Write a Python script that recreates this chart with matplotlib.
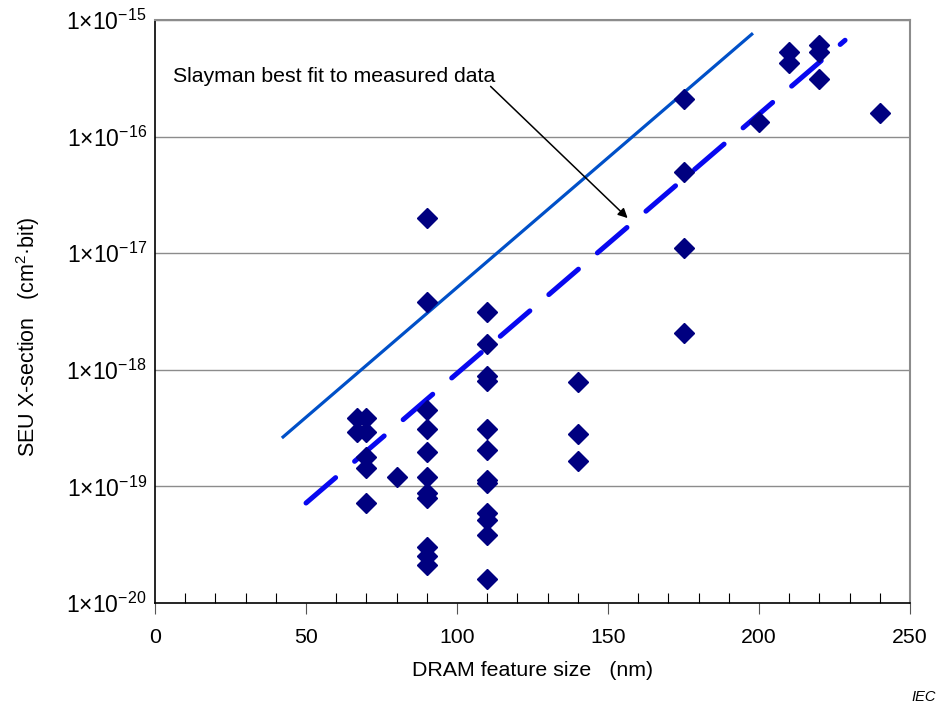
import numpy as np
import matplotlib
matplotlib.use("Agg")
import matplotlib.pyplot as plt
from matplotlib.ticker import FixedLocator, FuncFormatter, MultipleLocator

plt.rcParams['font.family'] = ['Liberation Sans', 'DejaVu Sans']
plt.rcParams['mathtext.fontset'] = 'custom'
plt.rcParams['mathtext.rm'] = 'Liberation Sans'
plt.rcParams['mathtext.it'] = 'Liberation Sans:italic'
plt.rcParams['mathtext.bf'] = 'Liberation Sans:bold'

# measured data (feature size nm, SEU cross-section cm2/bit)
feature_nm = [67, 67, 70, 70, 70, 70, 70, 80,
              90, 90, 90, 90, 90, 90, 90, 90, 90, 90, 90,
              110, 110, 110, 110, 110, 110, 110, 110, 110, 110, 110, 110,
              140, 140, 140,
              175, 175, 175, 175,
              200, 210, 210, 220, 220, 220, 240]
seu_xsec = [3.86e-19, 2.93e-19, 3.86e-19, 2.93e-19, 1.8e-19, 1.44e-19, 7.2e-20, 1.2e-19,
            2.0e-17, 3.8e-18, 4.5e-19, 3.1e-19, 1.97e-19, 1.2e-19, 8.8e-20, 7.9e-20, 3.0e-20, 2.55e-20, 2.1e-20,
            3.1e-18, 1.66e-18, 8.85e-19, 8.0e-19, 3.1e-19, 2.05e-19, 1.13e-19, 1.07e-19, 5.9e-20, 5.15e-20, 3.8e-20, 1.6e-20,
            7.85e-19, 2.81e-19, 1.65e-19,
            2.1e-16, 4.97e-17, 1.11e-17, 2.07e-18,
            1.33e-16, 5.3e-16, 4.28e-16, 6.1e-16, 5.3e-16, 3.12e-16, 1.59e-16]

# fitted lines (end points)
upper_x = [42, 198]
upper_y = [2.6e-19, 7.7e-16]
fit_x = [50, 228.5]
fit_y = [7.2e-20, 6.7e-16]

yticks = [1e-20, 1e-19, 1e-18, 1e-17, 1e-16, 1e-15]

fig = plt.figure(figsize=(9.43, 7.06), dpi=100)
ax = fig.add_axes([0.1644, 0.1459, 0.8006, 0.8258])
ax.set_yscale('log')
ax.set_xlim(0, 250)
ax.set_ylim(1e-20, 1e-15)

for y in yticks[1:]:
    ax.axhline(y, color='#8c8c8c', lw=1.0, zorder=1)

ax.plot(upper_x, upper_y, color='#0050c8', lw=2.3, solid_capstyle='butt', zorder=2)
ax.plot(fit_x, fit_y, color='#0808f0', lw=3.6, dashes=(7.8, 5.0),
        dash_capstyle='round', zorder=3)
ax.plot(feature_nm, seu_xsec, linestyle='none', marker='D', markersize=10,
        color='#000080', markeredgecolor='#000080', zorder=4)

ax.annotate('Slayman best fit to measured data', xy=(156.5, 2.0e-17),
            xytext=(6, 3.25e-16), textcoords='data', fontsize=15.3,
            va='center', ha='left',
            arrowprops=dict(arrowstyle='-|>', color='black', lw=1.1,
                            mutation_scale=14, shrinkA=0, shrinkB=0,
                            patchA=None, relpos=(0.985, 0.0)))

ax.yaxis.set_major_locator(FixedLocator(yticks))
ax.yaxis.set_minor_locator(FixedLocator([]))
ax.yaxis.set_major_formatter(FuncFormatter(
    lambda v, p: r'$1{\times}10^{%d}$' % int(round(np.log10(v)))))
ax.tick_params(axis='y', which='major', length=0, pad=6, labelsize=16.5)

ax.xaxis.set_major_locator(MultipleLocator(50))
ax.xaxis.set_minor_locator(MultipleLocator(10))
ax.tick_params(axis='x', which='major', direction='out', length=8, width=0.8,
               color='#555555', labelsize=15.3, pad=10)
ax.tick_params(axis='x', which='minor', direction='in', length=7, width=0.8,
               color='black')

for s in ['left', 'bottom']:
    ax.spines[s].set_color('black')
    ax.spines[s].set_linewidth(1.2)
for s in ['top', 'right']:
    ax.spines[s].set_color('#8c8c8c')
    ax.spines[s].set_linewidth(1.5)

ax.set_xlabel('DRAM feature size   (nm)', fontsize=15.4, labelpad=10)
ax.set_ylabel('SEU X-section   (cm$^{2}$·bit)', fontsize=15.5)
ax.yaxis.set_label_coords(-0.150, 0.456)

fig.text(0.992, 0.003, 'IEC', fontsize=10.5, style='italic', ha='right', va='bottom')

fig.savefig('out.png', dpi=100)
